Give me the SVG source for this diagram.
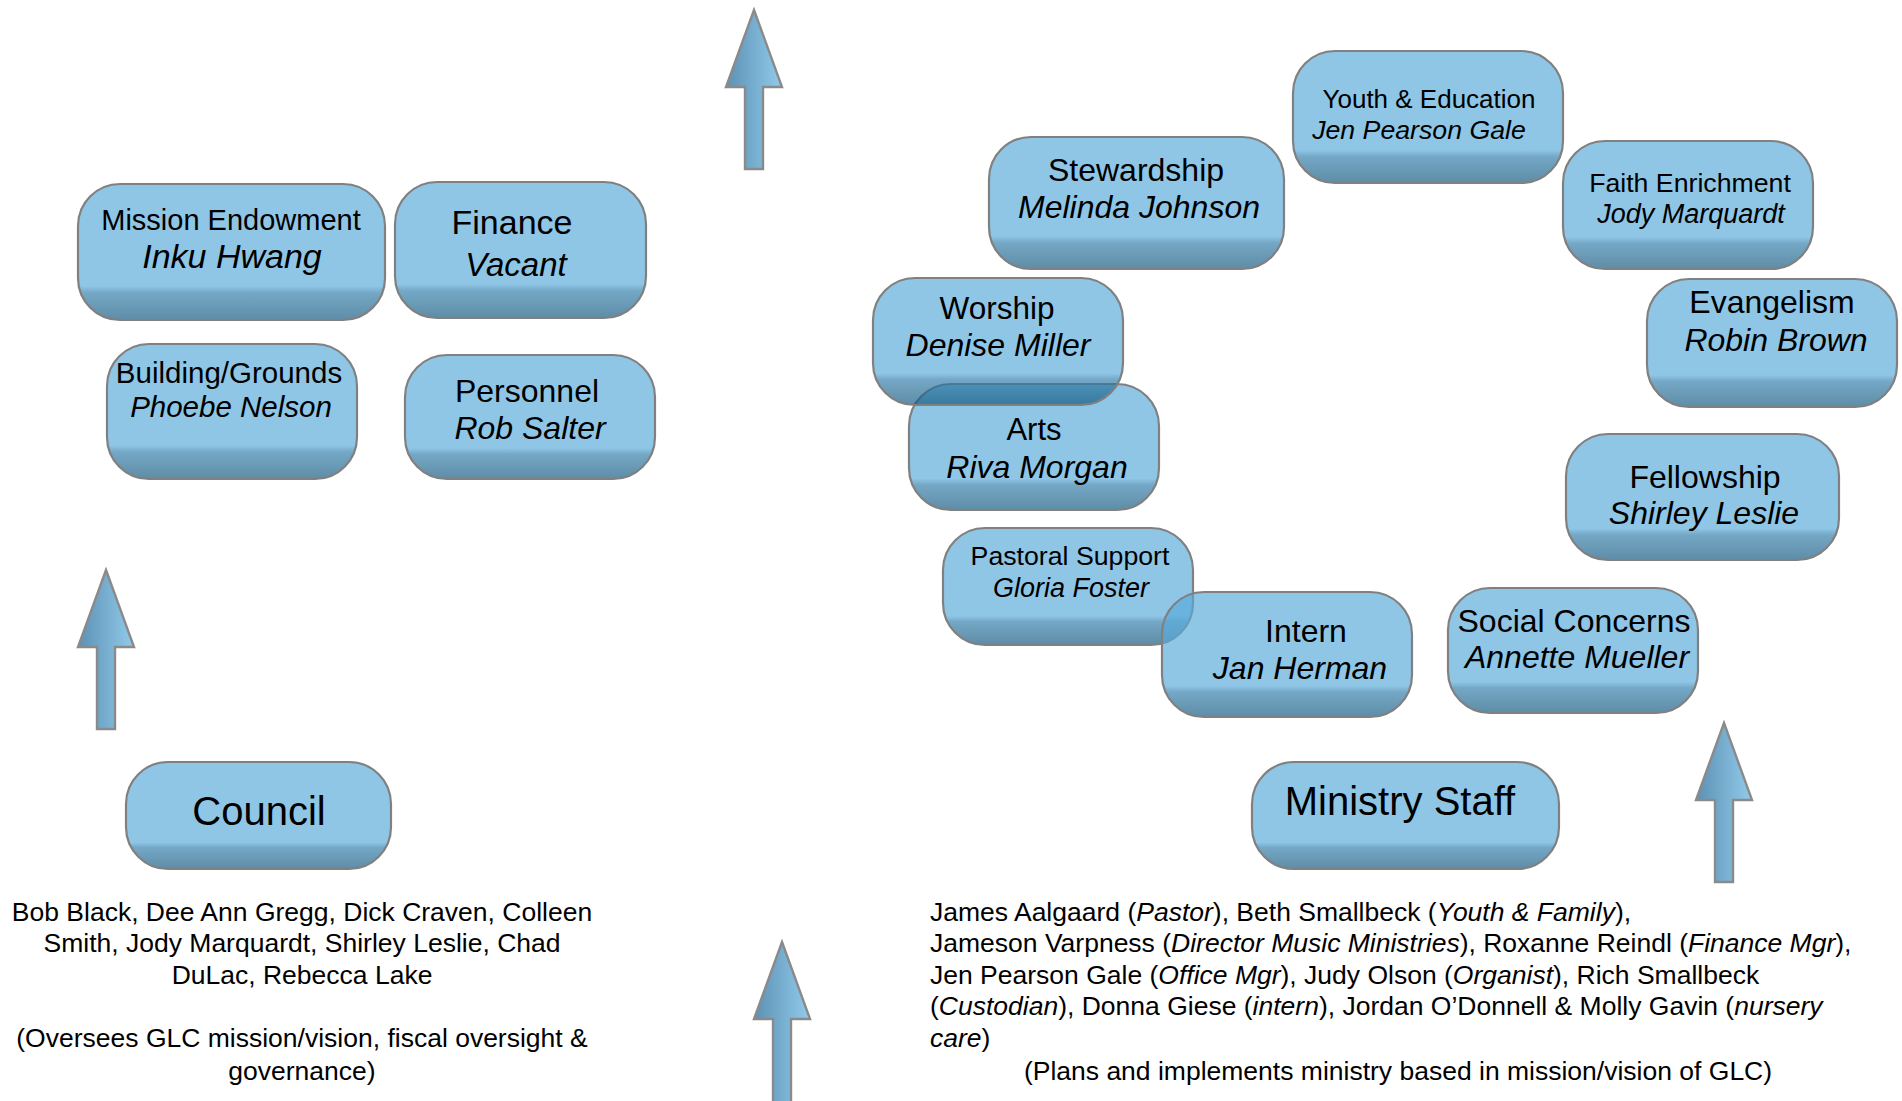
<svg xmlns="http://www.w3.org/2000/svg" width="1902" height="1101" viewBox="0 0 1902 1101">
<defs>
<linearGradient id="boxg" x1="0" y1="0" x2="0" y2="1">
<stop offset="0" stop-color="#58aada"/>
<stop offset="0.75" stop-color="#58aada"/>
<stop offset="0.80" stop-color="#307daa"/>
<stop offset="1" stop-color="#0f547a"/>
</linearGradient>
<linearGradient id="arrg" x1="0" y1="0" x2="1" y2="0">
<stop offset="0" stop-color="#5b92b4"/>
<stop offset="1" stop-color="#92caea"/>
</linearGradient>
<style>
.box{fill:url(#boxg);fill-opacity:0.67;stroke:#808080;stroke-width:2.2}
.arr{fill:url(#arrg);stroke:#8a8a8a;stroke-width:2.4;stroke-linejoin:miter}
text{font-family:"Liberation Sans",Arial,Helvetica,sans-serif;fill:#000}
.c{text-anchor:middle}
.i{font-style:italic}
.d{font-size:26.5px}
</style>
</defs>
<rect width="1902" height="1101" fill="#fff"/>

<g id="connectors">
<polygon class="arr" points="754,10 782,87 763,87 763,169 745,169 745,87 726,87"/>
<polygon class="arr" points="106,570 134,647 115,647 115,729 97,729 97,647 78,647"/>
<polygon class="arr" points="1724,723 1752,800 1733,800 1733,882 1715,882 1715,800 1696,800"/>
<polygon class="arr" points="782,942 810,1019 791,1019 791,1110 773,1110 773,1019 754,1019"/>
</g>

<g id="mission-endowment">
<rect class="box" x="78" y="184" width="307" height="136" rx="42"/>
<text class="c" x="231" y="230" font-size="29">Mission Endowment</text>
<text class="c i" x="232" y="268" font-size="34">Inku Hwang</text>
</g>
<g id="finance">
<rect class="box" x="395" y="182" width="251" height="136" rx="42"/>
<text class="c" x="512" y="234" font-size="34">Finance</text>
<text class="c i" x="516" y="276" font-size="33">Vacant</text>
</g>
<g id="building-grounds">
<rect class="box" x="107" y="344" width="250" height="135" rx="42"/>
<text class="c" x="229" y="383" font-size="29.5">Building/Grounds</text>
<text class="c i" x="231" y="417" font-size="29.5">Phoebe Nelson</text>
</g>
<g id="personnel">
<rect class="box" x="405" y="355" width="250" height="124" rx="42"/>
<text class="c" x="527" y="402" font-size="32">Personnel</text>
<text class="c i" x="530" y="439" font-size="32">Rob Salter</text>
</g>
<g id="council">
<rect class="box" x="126" y="762" width="265" height="107" rx="42"/>
<text class="c" x="259" y="825" font-size="40">Council</text>
</g>
<g id="council-members">
<text class="c d" x="302" y="921">Bob Black, Dee Ann Gregg, Dick Craven, Colleen</text>
<text class="c d" x="302" y="952">Smith, Jody Marquardt, Shirley Leslie, Chad</text>
<text class="c d" x="302" y="984">DuLac, Rebecca Lake</text>
<text class="c d" x="302" y="1047">(Oversees GLC mission/vision, fiscal oversight &amp;</text>
<text class="c d" x="302" y="1080">governance)</text>
</g>

<g id="youth-education">
<rect class="box" x="1293" y="51" width="270" height="132" rx="42"/>
<text class="c" x="1429" y="108" font-size="26">Youth &amp; Education</text>
<text class="c i" x="1419" y="139" font-size="26.7">Jen Pearson Gale</text>
</g>
<g id="stewardship">
<rect class="box" x="989" y="137" width="295" height="132" rx="42"/>
<text class="c" x="1136" y="181" font-size="32">Stewardship</text>
<text class="c i" x="1139" y="218" font-size="32">Melinda Johnson</text>
</g>
<g id="faith-enrichment">
<rect class="box" x="1563" y="141" width="250" height="128" rx="42"/>
<text class="c" x="1690" y="192" font-size="26.7">Faith Enrichment</text>
<text class="c i" x="1691" y="223" font-size="27">Jody Marquardt</text>
</g>
<g id="evangelism">
<rect class="box" x="1647" y="279" width="250" height="128" rx="42"/>
<text class="c" x="1772" y="313" font-size="32">Evangelism</text>
<text class="c i" x="1776" y="351" font-size="32">Robin Brown</text>
</g>
<g id="arts">
<rect class="box" x="909" y="384" width="250" height="126" rx="42"/>
<text class="c" x="1034" y="440" font-size="31">Arts</text>
<text class="c i" x="1037" y="478" font-size="32">Riva Morgan</text>
</g>
<g id="worship">
<rect class="box" x="873" y="278" width="250" height="127" rx="42"/>
<text class="c" x="997" y="319" font-size="31.5">Worship</text>
<text class="c i" x="998" y="356" font-size="32">Denise Miller</text>
</g>
<g id="fellowship">
<rect class="box" x="1566" y="434" width="273" height="126" rx="42"/>
<text class="c" x="1705" y="488" font-size="32">Fellowship</text>
<text class="c i" x="1704" y="524" font-size="32">Shirley Leslie</text>
</g>
<g id="pastoral-support">
<rect class="box" x="943" y="528" width="250" height="117" rx="42"/>
<text class="c" x="1070" y="565" font-size="26.7">Pastoral Support</text>
<text class="c i" x="1071" y="597" font-size="27">Gloria Foster</text>
</g>
<g id="intern">
<rect class="box" x="1162" y="592" width="250" height="125" rx="42"/>
<text class="c" x="1306" y="642" font-size="32">Intern</text>
<text class="c i" x="1300" y="679" font-size="32">Jan Herman</text>
</g>
<g id="social-concerns">
<rect class="box" x="1448" y="588" width="250" height="125" rx="42"/>
<text class="c" x="1574" y="632" font-size="32">Social Concerns</text>
<text class="c i" x="1577" y="668" font-size="32">Annette Mueller</text>
</g>
<g id="ministry-staff">
<rect class="box" x="1252" y="762" width="307" height="107" rx="42"/>
<text class="c" x="1400" y="815" font-size="40">Ministry Staff</text>
</g>
<g id="staff-members">
<text class="d" x="930" y="921">James Aalgaard (<tspan class="i">Pastor</tspan>), Beth Smallbeck (<tspan class="i">Youth &amp; Family</tspan>),</text>
<text class="d" x="930" y="952">Jameson Varpness (<tspan class="i">Director Music Ministries</tspan>), Roxanne Reindl (<tspan class="i">Finance Mgr</tspan>),</text>
<text class="d" x="930" y="984">Jen Pearson Gale (<tspan class="i">Office Mgr</tspan>), Judy Olson (<tspan class="i">Organist</tspan>), Rich Smallbeck</text>
<text class="d" x="930" y="1015">(<tspan class="i">Custodian</tspan>), Donna Giese (<tspan class="i">intern</tspan>), Jordan O’Donnell &amp; Molly Gavin (<tspan class="i">nursery</tspan></text>
<text class="d" x="930" y="1047"><tspan class="i">care</tspan>)</text>
<text class="c d" x="1398" y="1080">(Plans and implements ministry based in mission/vision of GLC)</text>
</g>
</svg>
